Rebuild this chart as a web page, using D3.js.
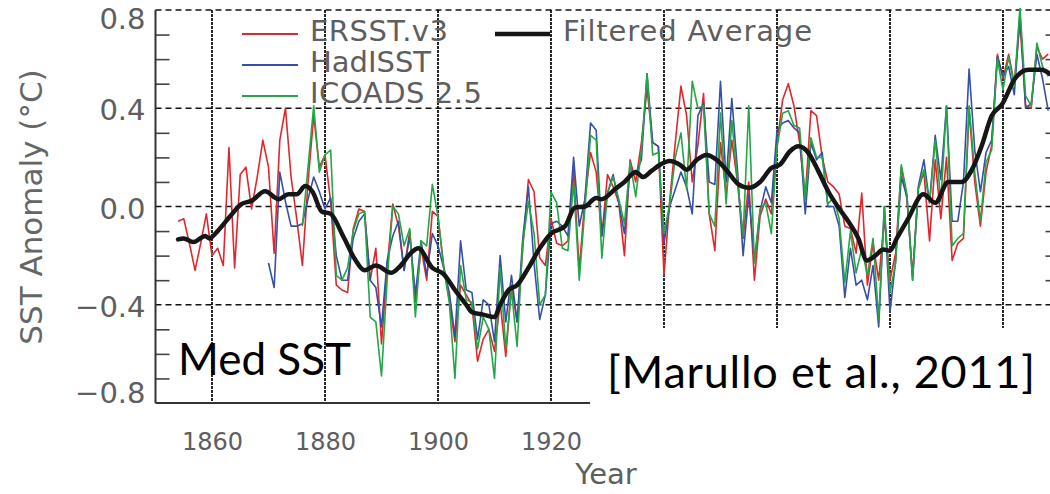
<!DOCTYPE html>
<html>
<head>
<meta charset="utf-8">
<script src="https://cdn.jsdelivr.net/npm/d3@7.9.0/dist/d3.min.js"></script>
<style>
  body { margin: 0; background: #fff; }
  svg { display: block; }
</style>
</head>
<body>
<svg id="chart" width="1050" height="494"></svg>
<script>
// --- data (annual Mediterranean SST anomaly, degC) ---
const ersstStart = 1854;
const ersst = [
  -0.06, -0.05, -0.15, -0.26, -0.15, -0.03, -0.20, -0.17, -0.24, 0.24,   // 1854-1863
  -0.25, 0.13, 0.16, -0.01, 0.12, 0.27, 0.16, -0.19, 0.27, 0.40,        // 1864-1873
  0.12, -0.05, -0.24, 0.10, 0.37, 0.16, 0.21, 0.02, -0.32, -0.34,       // 1874-1883
  -0.35, -0.09, -0.01, -0.02, -0.30, -0.17, -0.56, -0.25, 0.01, -0.08,  // 1884-1893
  -0.26, -0.10, -0.39, -0.17, -0.30, -0.02, -0.04, -0.24, -0.38, -0.55, // 1894-1903
  -0.32, -0.36, -0.40, -0.63, -0.54, -0.50, -0.59, -0.39, -0.61, -0.32, // 1904-1913
  -0.47, -0.17, 0.11, 0.06, -0.21, -0.24, -0.05, -0.15, -0.16, -0.14,   // 1914-1923
  0.15, -0.26, 0.03, 0.22, 0.14, -0.12, 0.13, 0.08, 0.015, -0.20,       // 1924-1933
  0.19, 0.10, 0.26, 0.48, 0.26, 0.245, -0.28, 0.02, 0.26, 0.49,         // 1934-1943
  0.37, 0.10, 0.25, 0.46, -0.03, -0.18, 0.26, 0.05, 0.27, 0.10,         // 1944-1953
  -0.13, 0.10, -0.30, -0.04, 0.03, -0.03, 0.25, 0.435, 0.50, 0.41,      // 1954-1963
  0.26, 0.04, 0.39, 0.37, 0.20, 0.10, 0.08, 0.05, -0.08, -0.09,         // 1964-1973
  -0.19, 0.055, -0.32, -0.15, -0.30, -0.05, -0.30, -0.19, 0.16, 0.03,   // 1974-1983
  -0.28, 0.07, 0.14, -0.14, 0.19, -0.05, 0.20, -0.22, -0.15, -0.13,     // 1984-1993
  0.39, 0.10, -0.08, 0.14, 0.25, 0.62, 0.52, 0.62, 0.50, 0.75,          // 1994-2003
  0.41, 0.40, 0.65, 0.60, 0.62                                          // 2004-2008
];

const hadisstStart = 1870;
const hadisst = [
  -0.23, -0.33, 0.14, 0.02, -0.08, -0.08, -0.07, 0.03, 0.12, 0.06,      // 1870-1879
  -0.01, 0.035, -0.20, -0.30, -0.30, -0.13, -0.06, -0.03, -0.30, -0.33, // 1880-1889
  -0.49, -0.22, -0.12, -0.06, -0.26, -0.12, -0.36, -0.14, -0.28, -0.11, // 1890-1899
  -0.16, -0.25, -0.35, -0.53, -0.14, -0.34, -0.35, -0.54, -0.38, -0.40, // 1900-1909
  -0.55, -0.20, -0.47, -0.28, -0.47, -0.13, 0.08, -0.23, -0.46, -0.36,  // 1910-1919
  -0.07, -0.06, -0.08, -0.12, 0.20, -0.08, 0.03, 0.34, 0.31, -0.12,     // 1920-1929
  0.055, 0.13, 0.015, -0.11, 0.16, 0.13, 0.19, 0.54, 0.26, 0.245,       // 1930-1939
  -0.15, 0.0, 0.07, 0.14, 0.08, -0.03, 0.37, 0.42, 0.10, 0.09,          // 1940-1949
  0.51, 0.10, 0.44, 0.15, -0.20, 0.05, -0.22, -0.02, 0.08, 0.015,       // 1950-1959
  0.31, 0.34, 0.35, 0.32, 0.30, -0.03, 0.26, 0.19, 0.22, 0.0,           // 1960-1969
  0.0, -0.08, -0.37, -0.17, -0.32, -0.30, -0.38, -0.24, -0.49, 0.0,     // 1970-1979
  -0.43, -0.22, 0.12, 0.04, -0.30, 0.08, 0.19, 0.015, 0.29, 0.11,       // 1980-1989
  0.41, -0.06, -0.06, 0.10, 0.56, 0.23, 0.06, 0.22, 0.27, 0.61,         // 1990-1999
  0.53, 0.57, 0.455, 0.79, 0.40, 0.42, 0.62, 0.52, 0.39                 // 2000-2008
];

const icoadsStart = 1876;
const icoads = [
  -0.08, 0.16, 0.41, 0.14,                                              // 1876-1879
  0.21, 0.23, -0.28, -0.30, -0.25, -0.10, -0.03, -0.02, -0.45, -0.47,   // 1880-1889
  -0.69, -0.30, 0.0, -0.03, -0.16, -0.09, -0.45, -0.14, -0.16, 0.09,    // 1890-1899
  -0.04, -0.25, -0.39, -0.70, -0.24, -0.38, -0.39, -0.58, -0.45, -0.50, // 1900-1909
  -0.70, -0.25, -0.58, -0.34, -0.57, -0.15, 0.02, -0.11, -0.40, -0.36,  // 1910-1919
  0.06, 0.015, -0.17, -0.18, 0.10, -0.30, -0.01, 0.29, 0.27, -0.21,     // 1920-1929
  0.055, 0.12, 0.03, -0.07, 0.18, 0.04, 0.23, 0.54, 0.21, 0.22,         // 1930-1939
  -0.11, 0.01, 0.20, 0.30, 0.07, 0.51, 0.40, 0.41, -0.03, -0.08,        // 1940-1949
  0.38, 0.01, 0.35, 0.11, -0.12, 0.41, -0.23, -0.01, 0.015, -0.11,      // 1950-1959
  0.24, 0.38, 0.39, 0.33, 0.32, 0.03, 0.28, 0.20, 0.20, 0.01,           // 1960-1969
  0.035, -0.05, -0.31, -0.10, -0.27, -0.17, -0.28, -0.13, -0.46, 0.0,   // 1970-1979
  -0.35, -0.23, 0.17, 0.05, -0.30, 0.07, 0.15, 0.015, 0.27, 0.02,       // 1980-1989
  0.41, -0.16, -0.13, -0.11, 0.41, 0.14, -0.06, 0.18, 0.23, 0.60,       // 1990-1999
  0.475, 0.61, 0.49, 0.81, 0.45, 0.41, 0.665, 0.57, 0.53                // 2000-2008
];

// filtered average, read as (year, value) points along the thick curve
const avgYears = [
  1854, 1855, 1856.7, 1858.8, 1859.5, 1861, 1863.2, 1865.2, 1867, 1869.4,
  1871.8, 1873.5, 1875, 1876.5, 1877.8, 1879.4, 1881, 1883.2, 1885.3, 1887,
  1889, 1891.7, 1893, 1895.4, 1896.5, 1899, 1901, 1903, 1905, 1906,
  1908, 1910, 1911, 1912.5, 1914, 1916, 1918, 1920, 1922.5, 1924.2,
  1926, 1928, 1929, 1931.3, 1933, 1935, 1936.3, 1937.8, 1939.3, 1941,
  1942.8, 1944, 1945.8, 1947.5, 1949.3, 1951, 1953.2, 1955, 1957, 1959,
  1960.5, 1962.3, 1963.8, 1965.5, 1967.3, 1969.1, 1970.9, 1972.6, 1974.4, 1975.9,
  1977.4, 1978.8, 1980, 1981.2, 1983.2, 1985.9, 1988, 1990.3, 1992.7, 1994.5,
  1996.2, 1998, 1999.8, 2002.1, 2004.5, 2006.8, 2008.3
];
const avgValues = [
  -0.134, -0.13, -0.145, -0.12, -0.13, -0.10, -0.04, 0.01, 0.023, 0.062,
  0.03, 0.05, 0.05, 0.083, 0.06, -0.02, -0.03, -0.12, -0.215, -0.26,
  -0.24, -0.27, -0.25, -0.185, -0.17, -0.25, -0.275, -0.34, -0.40, -0.43,
  -0.44, -0.45, -0.40, -0.34, -0.32, -0.25, -0.17, -0.11, -0.08, -0.005,
  0.0, 0.035, 0.03, 0.07, 0.10, 0.14, 0.12, 0.145, 0.17, 0.185,
  0.17, 0.15, 0.19, 0.21, 0.19, 0.15, 0.09, 0.076, 0.10, 0.157,
  0.17, 0.225, 0.245, 0.22, 0.145, 0.06, -0.005, -0.06, -0.13, -0.22,
  -0.20, -0.175, -0.18, -0.13, -0.05, 0.05, 0.015, 0.10, 0.10, 0.15,
  0.245, 0.37, 0.415, 0.52, 0.557, 0.557, 0.54
];

const yTicks = [-0.8, -0.4, 0.0, 0.4, 0.8];
const yMinor = d3.range(-7, 8).map(d => d / 10);
const xTicks = [1860, 1880, 1900, 1920, 1940, 1960, 1980, 2000];

const series = [
  { name: 'ERSST.v3', start: ersstStart, values: ersst, color: '#e3262b' },
  { name: 'HadISST', start: hadisstStart, values: hadisst, color: '#3550a6' },
  { name: 'ICOADS 2.5', start: icoadsStart, values: icoads, color: '#23a744' }
];

// --- layout ---
const svg = d3.select('#chart');
const plotL = 155.5, plotR = 1059.5, plotT = 10, plotB = 403;

const x = d3.scaleLinear().domain([1850, 2010]).range([plotL, plotR]);
const y = d3.scaleLinear().domain([-0.8, 0.8]).range([plotB, plotT]);

const axisFont = 'DejaVu Sans, Verdana, sans-serif';
const grey = '#5e5e5e';
const minorTicks = yMinor.filter(d => Math.round(d * 10) % 4 !== 0);

svg.append('defs').append('clipPath').attr('id', 'plot-clip')
  .append('rect')
  .attr('x', plotL).attr('y', plotT - 2)
  .attr('width', plotR - plotL).attr('height', plotB - plotT + 2);

// grid
svg.append('g')
  .selectAll('line')
  .data(yTicks.filter(d => d > -0.8))
  .join('line')
  .attr('x1', plotL).attr('x2', plotR)
  .attr('y1', d => y(d)).attr('y2', d => y(d))
  .attr('stroke', '#111').attr('stroke-width', 1.6)
  .attr('stroke-dasharray', '6,4');

svg.append('g')
  .selectAll('line')
  .data(xTicks)
  .join('line')
  .attr('x1', d => x(d)).attr('x2', d => x(d))
  .attr('y1', plotT).attr('y2', plotB)
  .attr('stroke', '#000').attr('stroke-width', 1.7)
  .attr('stroke-dasharray', '3,1');

// minor ticks, left and right, pointing inward
svg.append('g')
  .attr('transform', `translate(${plotL},0)`)
  .call(d3.axisRight(y).tickValues(minorTicks).tickSize(14).tickFormat(''))
  .call(g => g.select('.domain').remove())
  .call(g => g.selectAll('line').attr('stroke', '#444').attr('stroke-width', 1.6));

svg.append('g')
  .attr('transform', `translate(${plotR},0)`)
  .call(d3.axisLeft(y).tickValues(minorTicks).tickSize(14).tickFormat(''))
  .call(g => g.select('.domain').remove())
  .call(g => g.selectAll('line').attr('stroke', '#444').attr('stroke-width', 1.6));

// data lines
const plot = svg.append('g').attr('clip-path', 'url(#plot-clip)');

const line = d3.line()
  .x(d => x(d[0]))
  .y(d => y(d[1]));

series.forEach(s => {
  const pts = s.values.map((v, i) => [s.start + i, v]);
  plot.append('path')
    .datum(pts)
    .attr('fill', 'none')
    .attr('stroke', s.color)
    .attr('stroke-width', 1.6)
    .attr('stroke-linejoin', 'round')
    .attr('d', line);
});

const smooth = d3.line()
  .x(d => x(d[0]))
  .y(d => y(d[1]))
  .curve(d3.curveMonotoneX);

plot.append('path')
  .datum(avgYears.map((yr, i) => [yr, avgValues[i]]))
  .attr('fill', 'none')
  .attr('stroke', '#161616')
  .attr('stroke-width', 4.5)
  .attr('stroke-linejoin', 'round')
  .attr('stroke-linecap', 'round')
  .attr('d', smooth);

// frame: left and bottom axis lines
svg.append('line')
  .attr('x1', plotL).attr('x2', plotL).attr('y1', plotT).attr('y2', plotB)
  .attr('stroke', '#333').attr('stroke-width', 2);
svg.append('line')
  .attr('x1', plotL).attr('x2', plotR).attr('y1', plotB).attr('y2', plotB)
  .attr('stroke', '#333').attr('stroke-width', 2);

// y tick labels
svg.append('g')
  .attr('transform', `translate(${plotL},0)`)
  .call(d3.axisLeft(y).tickValues(yTicks).tickSize(0).tickPadding(10).tickFormat(d3.format('.1f')))
  .call(g => g.select('.domain').remove())
  .call(g => g.selectAll('text')
    .attr('font-family', axisFont).attr('font-size', 29).attr('fill', grey)
    .attr('dy', d => d === 0.8 ? '0.65em' : d === -0.8 ? '-0.02em' : '0.4em'));

// x tick labels
svg.append('g')
  .attr('transform', `translate(0,${plotB})`)
  .call(d3.axisBottom(x).tickValues(xTicks).tickSize(0).tickPadding(30).tickFormat(d3.format('d')))
  .call(g => g.select('.domain').remove())
  .call(g => g.selectAll('text')
    .attr('font-family', axisFont).attr('font-size', 24).attr('fill', grey));

// axis titles
svg.append('text')
  .attr('transform', 'translate(42,207) rotate(-90)')
  .attr('text-anchor', 'middle')
  .attr('font-family', axisFont).attr('font-size', 31).attr('fill', '#666')
  .text('SST Anomaly (°C)');

svg.append('text')
  .attr('x', 606).attr('y', 484)
  .attr('text-anchor', 'middle')
  .attr('font-family', axisFont).attr('font-size', 29).attr('fill', grey)
  .text('Year');

// legend
const legend = svg.append('g');
const legendRows = [34, 65, 96];
const legendWidths = [138, 121, 172];
series.forEach((s, i) => {
  legend.append('line')
    .attr('x1', 242).attr('x2', 298)
    .attr('y1', legendRows[i]).attr('y2', legendRows[i])
    .attr('stroke', s.color).attr('stroke-width', 1.8);
  legend.append('text')
    .attr('x', 310).attr('y', legendRows[i] + 7)
    .attr('font-family', axisFont).attr('font-size', 29).attr('fill', grey)
    .attr('textLength', legendWidths[i]).attr('lengthAdjust', 'spacing')
    .text(s.name);
});
legend.append('line')
  .attr('x1', 495).attr('x2', 550).attr('y1', 34).attr('y2', 34)
  .attr('stroke', '#161616').attr('stroke-width', 4.5);
legend.append('text')
  .attr('x', 563).attr('y', 41)
  .attr('font-family', axisFont).attr('font-size', 29).attr('fill', grey)
  .attr('textLength', 249).attr('lengthAdjust', 'spacing')
  .text('Filtered Average');

// slide overlays
svg.append('rect')
  .attr('x', 590).attr('y', 328).attr('width', 460).attr('height', 128)
  .attr('fill', '#fff');

svg.append('text')
  .attr('x', 178).attr('y', 375)
  .attr('font-family', 'Lato, Open Sans, sans-serif').attr('font-size', 44).attr('fill', '#000')
  .text('Med SST');

svg.append('text')
  .attr('x', 607).attr('y', 388)
  .attr('font-family', 'Lato, Open Sans, sans-serif').attr('font-size', 45).attr('fill', '#000')
  .attr('textLength', 428).attr('lengthAdjust', 'spacing')
  .text('[Marullo et al., 2011]');
</script>
</body>
</html>
